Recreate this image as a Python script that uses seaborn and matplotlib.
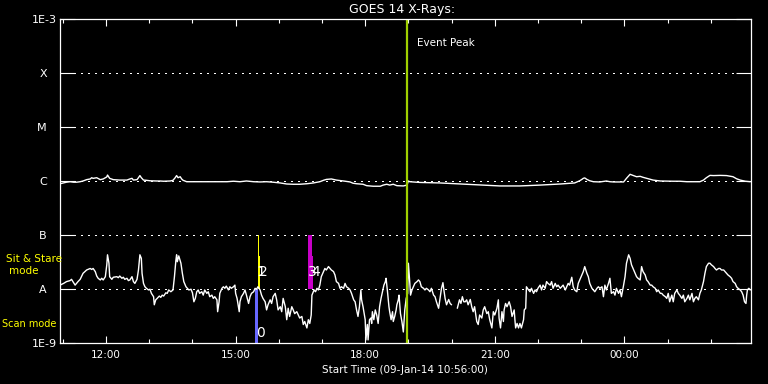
import pandas as pd
import numpy as np
import matplotlib
matplotlib.use("Agg")
import matplotlib.pyplot as plt
import matplotlib.dates as mdates
from matplotlib.ticker import NullLocator
import seaborn as sns

START = pd.Timestamp("2014-01-09 10:56:00")
SPAN_HOURS = 16

# GOES 0.5-4 A channel: minutes after START, flux in 1e-9 W/m^2 (nan = data gap)
short_min = [
    0, 5, 9, 14, 16, 21, 23, 25, 28, 32, 37, 42, 44, 46, 49, 51, 53, 56, 58, 60,
    63, 65, 66, 68, 69, 72, 74, 79, 81, 83, 86, 88, 90, 93, 95, 97, 100, 102, 104, 107,
    109, 111, 113, 114, 116, 118, 120, 123, 125, 127, 130, 131, 133, 135, 138, 140, 142, 144, 147, 149,
    151, 154, 157, 159, 161, 162, 163, 165, 168, 170, 172, 175, 177, 179, 182, 184, 186,
    188, 190, 192, 194, 197, 199, 201, 204, 206, 208, 211, 213, 215, 218, 219, 221, 222,
    225, 227, 229, 231, 234, 236, 238, 241, 243, 244, 246, 249, 250,
    252, 255, 257, 259, 262, 264, 266, 269, 271, 273, 275, 278, 280, 282, 285, 287, 289, 292, 294, 296,
    299, 301, 303, 306, 308, 310, 313, 315, 317, 319, 322, 324, 326, 329, 331, 333, 336, 338, 340, 343,
    345, 347, 349, 350, 353, 355, 357, 359, 361, 363, 366, 368, 370, 373,
    377, 380, 382, 384, 387, 389, 391, 394, 396, 398, 401, 403, 405, 408, 410, 412, 414, 416, 418, 419,
    421, 424, 425, 427, 428, 430, 432, 433, 434, 436, 438, 440, 442, 444,
    446, 448, 450, 452, 453, 455, 457, 458, 460, 462, 463, 465, 467, 468, 470, 471, 473, 475, 477, 479,
    481, 483, 484, 486, 487, 489, 491, 493, 496, 498, 500, 502, 505, 507, 509, 512, 514, 516, 519, 521,
    523, 526, 528, 530, 532, 533, 535, 537, 540, 542, 544, 548, 552, 555, 557, 559, 561,
    563, 565, 567, 570, 572, 574, 576, 579, 581, 583, 586, 588, 590, 593, 595, 597, 600, 602, 604, 607,
    609, 610, 612, 614, 616, 617, 619, 621, 624, 626, 628, 631, 632, 633, 635, 637, 639, 641, 644, 645,
    647, 648, 651, 653, 655, 658, 660, 662, 664, 667, 669, 671, 674, 676, 678, 681, 683, 685, 688, 690,
    692, 695, 697, 699, 702, 704, 706, 708, 711, 713, 715, 718, 720, 722, 725, 727, 729, 732, 734, 736,
    739, 741, 743, 746, 748,
    750, 753, 755, 757, 759, 762, 764, 766, 769, 771, 773, 776, 778, 780, 783, 785, 787, 790, 792, 794,
    797, 799, 801, 803, 806, 808, 810, 813, 815, 817, 820, 822, 824, 827, 829, 831, 834, 836, 838, 841,
    843, 845, 847, 850, 852, 854, 857, 859, 861, 864, 866, 868, 871, 873, 875, 878, 880, 882, 884, 887,
    889, 891, 894, 896, 898, 901, 903, 905, 908, 910, 912, 915, 917, 919, 922, 924, 926, 928, 931, 933,
    935, 938, 940, 942, 945, 947, 949, 951, 953, 954, 955, 957, 959,
]
short_flux = [
    11.8, 12.7, 13.7, 14.3, 15.1, 11.8, 12.7, 13.7, 15.1, 19.5, 22.5, 24, 23, 24, 21, 17.4, 15.8, 14.7, 15.8, 14.7,
    16.9, 28, 43, 30, 16.9, 15.1, 16.5, 16.9, 16.2, 17.4, 15.8, 16.5, 15.1, 15.8, 14.3, 14.7, 16.9, 13.7, 12.7, 15.1,
    22.5, 43, 37, 19.5, 12.7, 11.0, 10.3, 9.6, 9.9, 8.3, 7.2, 5.1, 6.3, 6.7, 7.4, 7.0, 7.7, 7.4, 8.5, 8.3,
    9.6, 8.9, 9.6, 16.9, 34, 43, 32, 41, 30, 19.5, 13.7, 11.0, 10.3, 9.6, 9.9, 8.5, 5.8,
    6.7, 8.9, 9.6, 8.3, 8.9, 7.7, 9.6, 8.3, 8.9, 7.2, 7.7, 6.7, 7.2, 6.3, 3.8, 5.8, 8.3,
    10.3, 11.0, 10.3, 11.3, 9.6, 11.0, 10.3, 11.0, 11.8, 8.3, 6.7, 3.8, 5.8,
    7.2, 8.3, 9.6, 7.7, 5.4, 7.2, 8.3, 8.9, 10.3, 9.9, 11.0, 9.6, 7.7, 6.7, 5.8, 4.1, 5.1, 6.3, 5.4, 7.2,
    8.3, 6.3, 4.1, 4.7, 3.8, 6.7, 4.7, 2.7, 4.4, 3.1, 4.7, 4.1, 3.5, 3.8, 3.3, 2.9, 3.1, 2.2, 2.5, 1.9,
    2.7, 2.3, 3.3, 7.7, 9.6, 8.9, 10.3, 9.6, 11.8, 16.9, 21, 24, 22.5, 26,
    22.5, 21, 18.2, 13.7, 12.7, 10.3, 11.0, 10.3, 12.7, 11.0, 10.3, 9.6, 8.3, 6.3, 5.8, 4.1, 3.1, 4.7, 9.6, 6.3,
    4.7, 2.7, 1.14, 2.2, 1.14, 2.7, 2.9, 2.3, 3.8, 2.7, 4.1, 3.3, 2.3, 4.7,
    6.7, 8.9, 11.8, 13.7, 15.8, 8.9, 4.7, 3.8, 2.7, 3.8, 2.5, 3.1, 4.1, 5.1, 6.3, 7.7, 3.5, 2.5, 1.6, 4.1,
    6.7, 8.3, 30, 12.7, 7.7, 9.6, 11.0, 12.7, 13.7, 14.7, 13.7, 11.0, 10.3, 9.6, 10.3, 9.6, 8.9, 10.3, 7.7, 7.2,
    5.8, 4.4, 6.7, 10.3, 13.1, 10.3, 6.7, 5.1, 6.4, 5.4, 5.1, np.nan, 4.4, 6.3, 5.4, 7.2, 5.8,
    5.8, 6.3, 5.1, 6.4, 4.7, 3.8, 4.7, 2.5, 2.2, 3.3, 2.9, 4.1, 4.7, 3.5, 3.8, 2.7, 1.9, 3.8, 3.3, 4.4,
    6.3, 2.9, 1.9, 3.8, 2.5, 4.1, 5.4, 4.7, 5.8, 4.7, 3.1, 4.1, 2.7, 1.9, 2.3, 1.9, 2.3, 1.9, 2.7, 4.1,
    4.4, 11.0, 9.6, 8.9, 10.3, 8.3, 9.6, 8.9, 10.3, 11.8, 9.6, 11.8, 10.3, 13.7, 12.7, 11.8, 13.7, 10.3, 12.7, 11.0,
    11.8, 10.3, 11.0, 11.8, 9.6, 11.0, 12.7, 11.8, 16.5, 11.0, 9.6, 8.9, 12.7, 14.7, 18.2, 21, 26, 19.5, 16.9, 12.7,
    10.3, 9.6, 8.9, 10.3, 11.0,
    10.3, 11.0, 7.2, 11.8, 9.6, 12.7, 15.8, 8.3, 8.9, 7.7, 10.3, 8.3, 9.6, 7.2, 11.8, 16.9, 30, 43, 37, 28,
    22.5, 19.5, 16.9, 15.8, 14.7, 26, 21, 18.2, 14.7, 13.7, 11.8, 11.8, 11.0, 10.3, 8.9, 9.6, 8.3, 8.3, 7.7, 7.2,
    6.7, 8.3, 5.8, 7.7, 5.8, 8.3, 9.6, 8.3, 7.7, 6.7, 7.7, 5.8, 6.7, 7.7, 6.3, 8.3, 5.8, 6.7, 7.2, 6.3,
    8.3, 9.6, 13.7, 19.5, 26, 30, 30, 28, 26, 24, 22.5, 24, 24, 22.5, 22.5, 21, 19.5, 18.2, 16.9, 15.8,
    13.7, 12.7, 11.0, 10.3, 9.6, 8.9, 7.7, 5.8, 5.4, 7.7, 9.6, 10.3, 9.6,
]

# GOES 1-8 A channel: minutes after START, flux in 1e-6 W/m^2
long_min = [
    0, 9, 14, 19, 23, 28, 32, 37, 42, 44, 46, 51, 56, 60, 65, 66, 69, 74, 83, 93,
    97, 100, 102, 107, 109, 111, 113, 116, 120, 125, 134, 139, 144, 153, 157, 160, 162, 164, 167, 169,
    171, 176, 185, 208, 232, 241, 250, 259, 269, 278, 287, 296, 306, 315, 324, 333, 343, 352, 361, 366,
    370, 377, 384, 394, 403, 407, 412, 417, 421, 426, 435, 445, 449, 454, 458, 463, 468, 477, 482, 484,
    486, 500, 528, 556, 583, 611, 639, 667, 695, 715,
    722, 725, 727, 729, 732, 736, 741, 750, 759, 764, 769, 783, 787, 792, 796, 801, 806, 810, 815, 820,
    824, 834, 852, 861, 871, 880, 889, 894, 898, 903, 908, 917, 926, 935, 940, 945, 952, 959,
]
long_flux = [
    0.89, 0.95, 0.97, 0.95, 0.95, 0.97, 1.00, 1.06, 1.09, 1.15, 1.12, 1.15, 1.06, 1.09, 1.19, 1.29, 1.12, 1.06, 1.04, 1.04,
    1.09, 1.12, 1.04, 1.06, 1.15, 1.26, 1.15, 1.04, 1.03, 1.01, 1.00, 1.00, 0.99, 1.00, 1.03, 1.15, 1.26, 1.15, 1.20, 1.09,
    1.03, 0.97, 0.97, 0.97, 0.97, 0.99, 0.97, 1.00, 0.97, 0.96, 0.97, 0.95, 0.92, 0.88, 0.87, 0.87, 0.89, 0.92, 0.97, 1.03,
    1.07, 1.09, 1.04, 1.00, 0.96, 0.91, 0.89, 0.88, 0.87, 0.82, 0.80, 0.80, 0.84, 0.87, 0.84, 0.87, 0.82, 0.81, 0.84, 1.00,
    0.97, 0.94, 0.92, 0.88, 0.84, 0.81, 0.81, 0.84, 0.88, 0.92,
    1.01, 1.07, 1.12, 1.14, 1.07, 1.01, 0.97, 0.96, 1.00, 0.97, 0.96, 0.96, 1.12, 1.33, 1.27, 1.20, 1.22, 1.17, 1.12, 1.07,
    1.04, 1.00, 0.99, 0.99, 0.97, 0.97, 0.97, 1.04, 1.15, 1.27, 1.26, 1.27, 1.26, 1.20, 1.10, 1.04, 0.99, 0.97,
]

peak_min = 482
# observation blocks: (start min, end min, low flux, high flux) in W/m^2
scan_blocks = [(271, 274.6, 1e-9, 1e-8)]
sit_stare_yellow = [(274.6, 276.4, 1e-8, 1e-7), (276.4, 277.8, 1e-8, 4.1e-8)]
sit_stare_magenta = [(345, 350, 1e-8, 1e-7), (350, 352, 1e-8, 4.1e-8)]
# block numbers: (label, minute, flux)
block_labels = [("0", 278, 1.56e-9), ("1", 279, 2.07e-8), ("2", 282.5, 2.07e-8),
                ("3", 350, 2.07e-8), ("4", 355.5, 2.07e-8)]

y_levels = [1e-9, 1e-8, 1e-7, 1e-6, 1e-5, 1e-4, 1e-3]
y_labels = ["1E-9", "A", "B", "C", "M", "X", "1E-3"]


def to_time(minutes):
    return START + pd.to_timedelta(np.asarray(minutes, dtype=float), unit="min")


def main():
    sns.set_style("ticks", {"axes.facecolor": "black", "figure.facecolor": "black",
                            "axes.edgecolor": "white", "text.color": "white",
                            "xtick.color": "white", "ytick.color": "white"})
    plt.rcParams["font.family"] = ["DejaVu Sans"]

    df_short = pd.DataFrame({"time": to_time(short_min),
                             "flux": np.array(short_flux) * 1e-9})
    df_short["seg"] = df_short["flux"].isna().cumsum()
    df_short = df_short.dropna()
    df_long = pd.DataFrame({"time": to_time(long_min),
                            "flux": np.array(long_flux) * 1e-6, "seg": 0})

    fig = plt.figure(figsize=(7.68, 3.84), dpi=100)
    ax = fig.add_axes([60 / 768, 1 - 343 / 384, 691 / 768, 324 / 384])
    ax.set_yscale("log")

    sns.lineplot(data=df_long, x="time", y="flux", units="seg", estimator=None,
                 color="white", lw=1.0, ax=ax, legend=False)
    sns.lineplot(data=df_short, x="time", y="flux", units="seg", estimator=None,
                 color="white", lw=1.0, ax=ax, legend=False)

    for blocks, col in [(scan_blocks, "#6868ff"), (sit_stare_yellow, "#ffff00"),
                        (sit_stare_magenta, "#c800c8")]:
        for t0, t1, lo, hi in blocks:
            ax.fill_between(to_time([t0, t1]), lo, hi, color=col, lw=0)

    ax.axvline(to_time([peak_min])[0], color="#a0d000", lw=1.6)
    ax.annotate("Event Peak", xy=(to_time([peak_min])[0], 1e-3), xytext=(7, -17),
                textcoords="offset points", color="white", fontsize=7.5, va="center")

    for lab, m, f in block_labels:
        ax.text(to_time([m])[0], f, lab, color="white", fontsize=10,
                ha="center", va="center")

    ax.set_xlim(START, START + pd.Timedelta(hours=SPAN_HOURS))
    ax.set_ylim(1e-9, 1e-3)
    ax.set_xlabel("")
    ax.set_ylabel("")

    ax.xaxis.set_major_locator(mdates.HourLocator(byhour=range(0, 24, 3)))
    ax.xaxis.set_minor_locator(mdates.HourLocator())
    ax.xaxis.set_major_formatter(mdates.DateFormatter("%H:%M"))
    ax.yaxis.set_minor_locator(NullLocator())
    ax.set_yticks(y_levels)
    ax.set_yticklabels(y_labels)

    ax.grid(axis="y", which="major", color="white", linestyle=(0, (1, 5)),
            linewidth=0.75, antialiased=False)
    ax.grid(axis="x", visible=False)
    for s in ax.spines.values():
        s.set_color("white")
        s.set_linewidth(0.9)

    ax.tick_params(axis="x", which="major", direction="in", length=5, width=0.8,
                   top=True, bottom=True, colors="white", labelsize=7.5, pad=5)
    ax.tick_params(axis="x", which="minor", direction="in", length=3, width=0.8,
                   top=True, bottom=True, colors="white")
    ax.tick_params(axis="y", which="major", direction="in", length=10.5, width=0.8,
                   left=True, right=True, colors="white", labelsize=8)
    for tick, lab in zip(ax.yaxis.get_major_ticks(), y_labels):
        tick.set_pad(2 if lab.startswith("1E") else 9.5)

    fig.text(402 / 768, 1 - 10 / 384, "GOES 14 X-Rays:", color="white",
             fontsize=9, ha="center", va="center")
    fig.text(405 / 768, 1 - 370 / 384,
             "Start Time (" + START.strftime("%d-%b-%y %H:%M:%S") + ")",
             color="white", fontsize=7.5, ha="center", va="center")
    fig.text(34 / 768, 1 - 258.5 / 384, "Sit & Stare", color="#ffff00",
             fontsize=7.5, ha="center", va="center")
    fig.text(24 / 768, 1 - 271 / 384, "mode", color="#ffff00",
             fontsize=7.5, ha="center", va="center")
    fig.text(29 / 768, 1 - 324 / 384, "Scan mode", color="#ffff00",
             fontsize=7, ha="center", va="center")

    fig.savefig("out.png", dpi=100, facecolor="black")
    plt.close(fig)


if __name__ == "__main__":
    main()
